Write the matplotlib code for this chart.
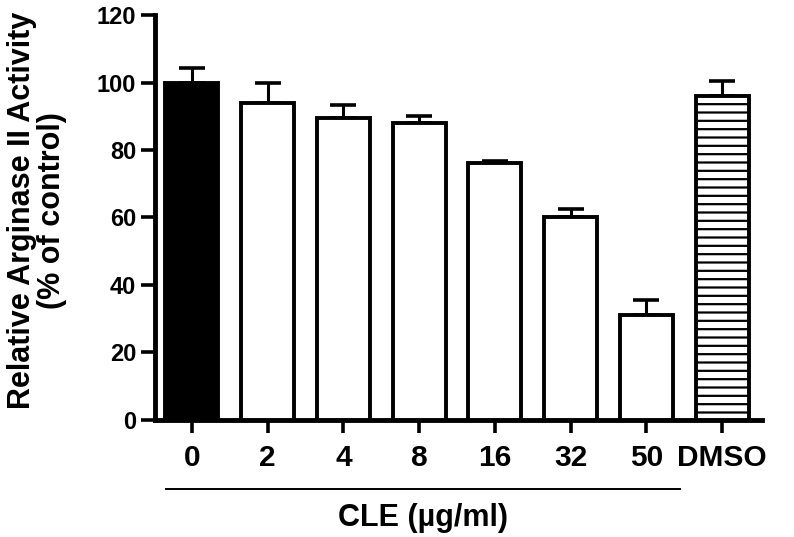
import matplotlib.pyplot as plt
import matplotlib.transforms as mtransforms

plt.rcParams['font.family'] = ['Liberation Sans', 'DejaVu Sans']
plt.rcParams['font.weight'] = 'bold'
plt.rcParams['hatch.linewidth'] = 1.6
plt.rcParams['hatch.color'] = '#333333'

labels = ['0', '2', '4', '8', '16', '32', '50', 'DMSO']
activity = [100, 94, 89.6, 88, 76, 60, 31, 96]
sem = [4.2, 6.0, 3.8, 2.0, 0.8, 2.6, 4.5, 4.5]
cle_label = 'CLE (µg/ml)'

fig = plt.figure(figsize=(7.94, 5.37), dpi=100)
ax = fig.add_axes([0.195, 0.218, 0.765, 0.754])

x = list(range(len(labels)))
faces = ['black'] + ['white'] * 6 + ['white']
hatches = [None] * 7 + ['--']

bars = ax.bar(x, activity, width=0.7, color=faces, edgecolor='black', linewidth=2.8, zorder=3)
for b, h in zip(bars, hatches):
    if h:
        b.set_hatch(h)

ax.errorbar(x, activity, yerr=[[0] * len(sem), sem], fmt='none', ecolor='black',
            elinewidth=2.2, capsize=9.5, capthick=2.6, zorder=2)

ax.set_xlim(-0.49, 7.53)
ax.set_ylim(0, 120)
ax.set_yticks(range(0, 121, 20))
ax.set_xticks(x)
ax.set_xticklabels(labels)

for s in ['top', 'right']:
    ax.spines[s].set_visible(False)
for s in ['left', 'bottom']:
    ax.spines[s].set_linewidth(3.5)

ax.tick_params(axis='both', width=2.6)
ax.tick_params(axis='x', length=9, pad=8, labelsize=21.5)
ax.tick_params(axis='y', length=10, pad=3.5, labelsize=17)

ax.set_ylabel('Relative Arginase II Activity\n(% of control)', fontsize=22,
              fontweight='bold', linespacing=1.0, va='center', ha='center')
ax.yaxis.set_label_coords(-0.194, 0.517)

# bracket under CLE doses
trans = mtransforms.blended_transform_factory(ax.transData, ax.transAxes)
ax.plot([-0.34, 6.45], [-0.171, -0.171], color='black', lw=1.4, transform=trans, clip_on=False)
ax.text(3.05, -0.243, cle_label, transform=trans, ha='center', va='center', fontsize=22,
        fontweight='bold')

plt.savefig('out.png', dpi=100)
